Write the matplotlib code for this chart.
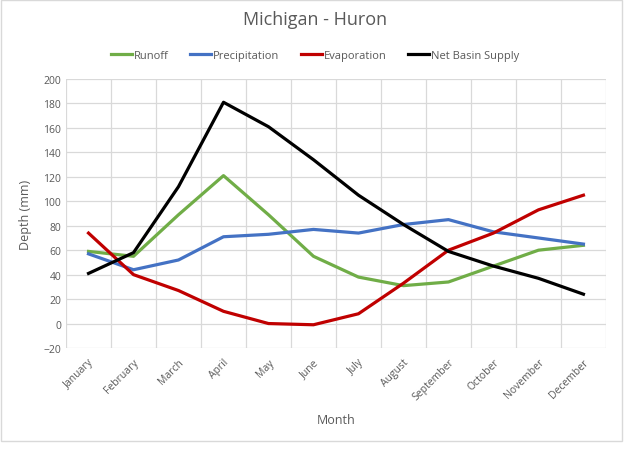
import matplotlib.pyplot as plt
from matplotlib.patches import Rectangle
import numpy as np

months = ['January', 'February', 'March', 'April', 'May', 'June', 'July',
          'August', 'September', 'October', 'November', 'December']
runoff = [59, 55, 89, 121, 89, 55, 38, 31, 34, 47, 60, 64]
precipitation = [57, 44, 52, 71, 73, 77, 74, 81, 85, 75, 70, 65]
evaporation = [74, 40, 27, 10, 0, -1, 8, 33, 60, 74, 93, 105]
net_basin_supply = [41, 58, 112, 181, 161, 134, 105, 81, 59, 47, 37, 24]

plt.rcParams['font.family'] = ['Open Sans', 'DejaVu Sans']
grey = '#595959'

fig = plt.figure(figsize=(6.3, 4.52), dpi=100)
ax = fig.add_axes([0.1048, 0.2279, 0.857, 0.595])

x = np.arange(len(months))
ax.plot(x, runoff, color='#70AD47', lw=2.3, label='Runoff')
ax.plot(x, precipitation, color='#4472C4', lw=2.3, label='Precipitation')
ax.plot(x, evaporation, color='#C00000', lw=2.3, label='Evaporation')
ax.plot(x, net_basin_supply, color='#000000', lw=2.3, label='Net Basin Supply')

ax.set_xlim(-0.5, len(months) - 0.5)
ax.set_ylim(-20, 200)
ax.set_yticks(range(-20, 201, 20))
ax.set_xticks(x)
ax.set_xticklabels(months, rotation=45, ha='right', rotation_mode='anchor')
ax.set_xticks(np.arange(-0.5, len(months)), minor=True)
ax.grid(True, which='minor', axis='x', color='#D9D9D9', lw=0.9)
ax.grid(True, which='major', axis='y', color='#D9D9D9', lw=0.9)
ax.tick_params(which='both', length=0, colors=grey, labelsize=7.5)
ax.tick_params(axis='x', pad=6)
for s in ax.spines.values():
    s.set_visible(False)
ax.set_axisbelow(True)

ax.set_ylabel('Depth (mm)', color=grey, fontsize=9, labelpad=8)
ax.set_xlabel('Month', color=grey, fontsize=9, labelpad=8)
fig.text(0.5, 0.955, 'Michigan - Huron', ha='center', va='center', color=grey, fontsize=13)
fig.legend(loc='center', bbox_to_anchor=(0.5, 0.876), ncol=4,
           frameon=False, fontsize=8, handlelength=1.9, handletextpad=0.2, columnspacing=1.9,
           labelcolor=grey)

fig.patches.append(Rectangle((0.002, 0.022), 0.985, 0.975, transform=fig.transFigure,
                             fill=False, edgecolor='#D9D9D9', lw=1))

fig.savefig('out.png', dpi=100)
